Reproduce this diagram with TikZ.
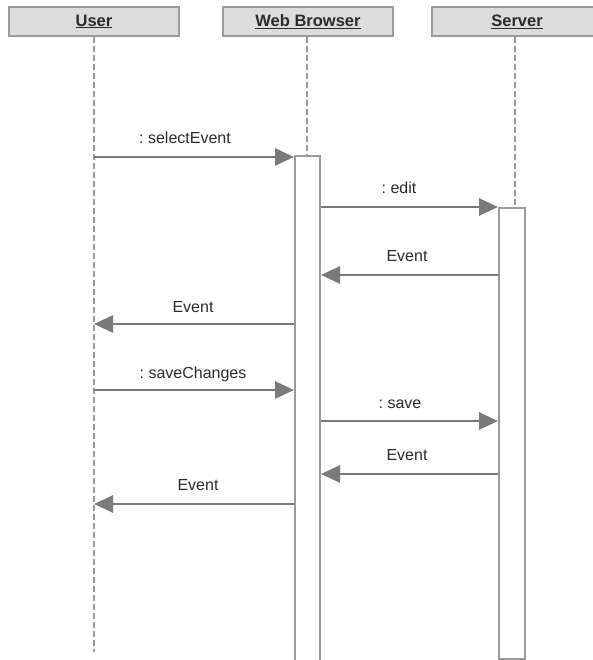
\documentclass[tikz,border=0pt]{standalone}
\usepackage{fontspec}
\setmainfont{Liberation Sans}
\usetikzlibrary{arrows.meta}
\frenchspacing
\definecolor{hdrfill}{HTML}{DCDCDC}
\definecolor{edge}{HTML}{9A9A9A}
\definecolor{msg}{HTML}{7A7A7A}
\definecolor{txt}{HTML}{2A2A2A}
\tikzset{
  header/.style={draw=edge, line width=2pt, fill=hdrfill, minimum width=170pt, minimum height=29pt, inner sep=0pt, font=\fontsize{16.5}{19}\selectfont\bfseries, text=txt},
  actbox/.style={draw=edge, line width=2pt, fill=white, inner sep=0pt},
  lifeline/.style={draw=edge, line width=2pt, dash pattern=on 6pt off 3pt},
  message/.style={draw=msg, line width=2.8pt, -{Triangle[length=19pt,width=17pt]}},
  msglabel/.style={font=\fontsize{16}{19}\selectfont, text=txt, inner sep=0pt}
}
\begin{document}
\begin{tikzpicture}[x=1pt,y=-1pt]
\useasboundingbox (0,0) rectangle (592,660);
% headers
\node[header] (user) at (94,21.5) {\underline{User}};
\node[header] (browser) at (308,21.5) {\underline{Web Browser}};
\node[header] (server) at (517,21.5) {\underline{Server}};
% activation boxes
\node[actbox, minimum width=25pt, minimum height=520pt, anchor=north] (bact) at (307.5,155) {};
\node[actbox, minimum width=26pt, minimum height=451pt, anchor=north] (sact) at (512,207) {};
% lifelines
\coordinate (userend) at (94,652);
\draw[lifeline] (user.south -| 94,0) -- (userend);
\draw[lifeline] (browser.south -| 307,0) -- (bact.north -| 307,0);
\draw[lifeline] (server.south -| 515,0) -- (sact.north -| 515,0);
% message end points
\coordinate (u1) at (94,157);   \coordinate (b1) at (bact.west |- 0,157);
\coordinate (b2) at (bact.east |- 0,207); \coordinate (s2) at (sact.west |- 0,207);
\coordinate (s3) at (sact.west |- 0,275); \coordinate (b3) at (bact.east |- 0,275);
\coordinate (b4) at (bact.west |- 0,324); \coordinate (u4) at (94,324);
\coordinate (u5) at (94,390);   \coordinate (b5) at (bact.west |- 0,390);
\coordinate (b6) at (bact.east |- 0,421); \coordinate (s6) at (sact.west |- 0,421);
\coordinate (s7) at (sact.west |- 0,474); \coordinate (b7) at (bact.east |- 0,474);
\coordinate (b8) at (bact.west |- 0,504); \coordinate (u8) at (94,504);
% messages
\draw[message] (u1) -- (b1);
\draw[message] (b2) -- (s2);
\draw[message] (s3) -- (b3);
\draw[message] (b4) -- (u4);
\draw[message] (u5) -- (b5);
\draw[message] (b6) -- (s6);
\draw[message] (s7) -- (b7);
\draw[message] (b8) -- (u8);
% labels
\node[msglabel] (l1) at (185,138) {: selectEvent};
\node[msglabel] (l2) at (399,188) {: edit};
\node[msglabel] (l3) at (407,256) {Event};
\node[msglabel] (l4) at (193,307) {Event};
\node[msglabel] (l5) at (193,374) {: saveChanges};
\node[msglabel] (l6) at (400,404) {: save};
\node[msglabel] (l7) at (407,455) {Event};
\node[msglabel] (l8) at (198,485) {Event};
\end{tikzpicture}
\end{document}
